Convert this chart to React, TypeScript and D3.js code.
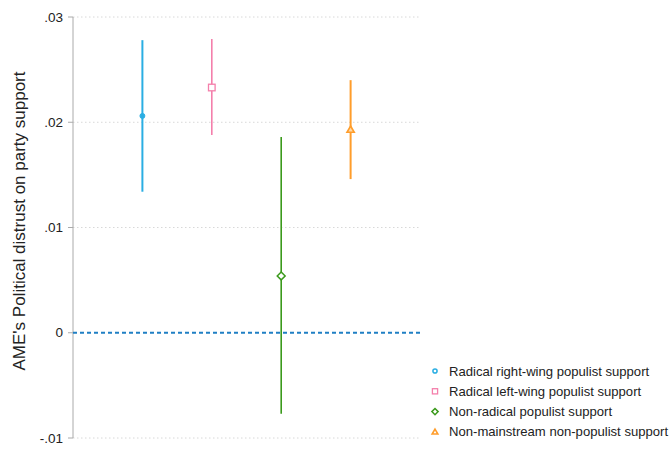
import React from "react";
import * as d3 from "d3";

const categories = [
  "Radical right-wing populist support",
  "Radical left-wing populist support",
  "Non-radical populist support",
  "Non-mainstream non-populist support",
];
const estimates = [0.0206, 0.0233, 0.0054, 0.0193];
const lower = [0.0134, 0.0188, -0.0077, 0.0146];
const upper = [0.0278, 0.0279, 0.0186, 0.0240];
const yTicks = [-0.01, 0, 0.01, 0.02, 0.03];
const yTickLabels = ["-.01", "0", ".01", ".02", ".03"];
const colors = ["#2aaee3", "#f47fab", "#3b9a1c", "#ff9d2b"];
const symbols = ["circle", "square", "diamond", "triangle"];

const W = 670, H = 449;
const left = 73, right = 420, top = 17, bottom = 438;

function Marker({ kind, x, y, color, size, hollow }: any) {
  const s = size;
  if (kind === "circle")
    return <circle cx={x} cy={y} r={hollow ? s * 0.8 : s * 0.75} fill={hollow ? "white" : color} stroke={color} strokeWidth={hollow ? 1.5 : 1} />;
  if (kind === "square") return <rect x={x - s} y={y - s} width={2 * s} height={2 * s} fill="white" stroke={color} strokeWidth={1.3} />;
  if (kind === "diamond") return <path d={`M${x},${y - s * 1.2}L${x + s * 1.2},${y}L${x},${y + s * 1.2}L${x - s * 1.2},${y}Z`} fill="white" stroke={color} strokeWidth={1.5} />;
  return <path d={`M${x},${y - s * 1.1}L${x + s * 1.1},${y + s * 0.8}L${x - s * 1.1},${y + s * 0.8}Z`} fill={hollow ? "white" : "#ffd9a8"} stroke={color} strokeWidth={1.6} />;
}

export default function App() {
  const y = d3.scaleLinear().domain([-0.01, 0.03]).range([bottom, top]);
  const x = d3.scaleLinear().domain([0, 5]).range([left, right]);
  const font = "Liberation Sans, Arial, sans-serif";
  return (
    <svg width={W} height={H} style={{ position: "absolute", left: 0, top: 0, background: "white" }}>
      <rect width={W} height={H} fill="white" />
      {yTicks.map((t, i) => (
        <g key={i}>
          {t !== 0 && (
            <line x1={left} x2={right} y1={y(t)} y2={y(t)} stroke="#d8d8d8" strokeWidth={1} strokeDasharray="1.5,2.5" />
          )}
          <line x1={left - 5} x2={left} y1={y(t)} y2={y(t)} stroke="#aaaaaa" strokeWidth={1} />
          <text x={left - 10} y={y(t)} dy="0.35em" textAnchor="end" fontFamily={font} fontSize={13.5} fill="#222">
            {yTickLabels[i]}
          </text>
        </g>
      ))}
      <line x1={left} x2={left} y1={top} y2={bottom} stroke="#aaaaaa" strokeWidth={1} />
      <line x1={left} x2={right} y1={y(0)} y2={y(0)} stroke="#1f7fc4" strokeWidth={1.8} strokeDasharray="4,3" />
      {categories.map((c, i) => (
        <g key={c}>
          <line x1={x(i + 1)} x2={x(i + 1)} y1={y(lower[i])} y2={y(upper[i])} stroke={colors[i]} strokeWidth={i === 0 || i === 3 ? 2 : 1.6} />
          <Marker kind={symbols[i]} x={x(i + 1)} y={y(estimates[i])} color={colors[i]} size={3.3} />
        </g>
      ))}
      <text transform={`translate(25,221) rotate(-90)`} textAnchor="middle" fontFamily={font} fontSize={17} fill="#222">
        AME's Political distrust on party support
      </text>
      {categories.map((c, i) => {
        const ly = 371 + i * 20.3;
        return (
          <g key={"l" + c}>
            <Marker kind={symbols[i]} x={435} y={ly} color={colors[i]} size={2.6} hollow />
            <text x={449} y={ly} dy="0.35em" fontFamily={font} fontSize={13.1} fill="#222">{c}</text>
          </g>
        );
      })}
    </svg>
  );
}
